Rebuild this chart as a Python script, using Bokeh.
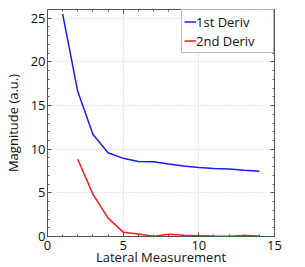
from bokeh.plotting import figure
from bokeh.embed import file_html
from bokeh.resources import INLINE
from bokeh.models import (LinearAxis, Range1d, SingleIntervalTicker, Legend, LegendItem,
                          CustomLabelingPolicy)

x1 = [1, 2, 3, 4, 5, 6, 7, 8, 9, 10, 11, 12, 13, 14]
deriv1 = [25.5, 16.6, 11.7, 9.6, 8.95, 8.6, 8.57, 8.3, 8.07, 7.9, 7.78, 7.72, 7.58, 7.46]
x2 = [2, 3, 4, 5, 6, 7, 8, 9, 10, 11, 12, 13, 14]
deriv2 = [8.85, 4.85, 2.1, 0.5, 0.28, 0.02, 0.27, 0.15, 0.1, 0.05, 0.02, 0.12, 0.05]

FONT = "Open Sans"
AX = "#555555"

p = figure(frame_width=227, frame_height=227, output_backend="svg", toolbar_location=None,
           x_range=Range1d(0, 15), y_range=Range1d(0, 26),
           min_border_left=38, min_border_right=14, min_border_top=9, min_border_bottom=20)

p.background_fill_color = "white"
p.border_fill_color = "white"
p.outline_line_color = AX
p.outline_line_width = 1

xt = SingleIntervalTicker(interval=5, num_minor_ticks=5)
yt = SingleIntervalTicker(interval=5, num_minor_ticks=5)

for ax in p.xaxis + p.yaxis:
    ax.major_tick_in = 4
    ax.major_tick_out = 0
    ax.minor_tick_in = 2
    ax.minor_tick_out = 0
    ax.axis_line_color = AX
    ax.major_tick_line_color = AX
    ax.minor_tick_line_color = AX
    ax.major_label_text_font = FONT
    ax.major_label_text_font_size = "13px"
    ax.major_label_text_color = "#111111"
    ax.axis_label_text_font = FONT
    ax.axis_label_text_font_size = "13px"
    ax.axis_label_text_font_style = "normal"
    ax.axis_label_text_color = "#111111"

p.xaxis.major_label_standoff = 4
p.xaxis.axis_label_standoff = -5
p.yaxis.major_label_standoff = 2
p.yaxis.axis_label_standoff = 6

p.xaxis.ticker = xt
p.yaxis.ticker = yt
p.xaxis.axis_label = "Lateral Measurement"
p.yaxis.axis_label = "Magnitude (a.u.)"

hide = """
const src = (indices.ones ? Array.from(indices.ones()) : Array.from(indices));
for (const i of src) { indices.unset(i) }
return indices
"""

def frame_axis():
    return LinearAxis(ticker=SingleIntervalTicker(interval=5, num_minor_ticks=5),
                      major_label_policy=CustomLabelingPolicy(code=hide),
                      major_label_text_font_size="1px", major_tick_in=4, major_tick_out=0,
                      minor_tick_in=2, minor_tick_out=0, axis_line_color=AX,
                      major_tick_line_color=AX, minor_tick_line_color=AX,
                      major_label_standoff=0)

p.add_layout(frame_axis(), "above")
p.add_layout(frame_axis(), "right")

p.xgrid.ticker = xt
p.ygrid.ticker = yt
p.grid.grid_line_color = "#cccccc"
p.grid.grid_line_dash = "1 2"
p.grid.grid_line_width = 1

r1 = p.line(x1, deriv1, line_color="#1a1aff", line_width=1.5)
r2 = p.line(x2, deriv2, line_color="#ff1a1a", line_width=1.5)

legend = Legend(items=[LegendItem(label="1st Deriv", renderers=[r1]),
                       LegendItem(label="2nd Deriv", renderers=[r2])],
                location="top_right")
legend.label_text_font = FONT
legend.label_text_font_size = "13px"
legend.label_text_color = "#111111"
legend.glyph_width = 12
legend.glyph_height = 19
legend.label_standoff = 0
legend.label_width = 75
legend.label_height = 19
legend.padding = 2
legend.spacing = 0
legend.margin = 0
legend.border_line_color = "#777777"
legend.border_line_width = 1
p.add_layout(legend)

open("out.html", "w").write(file_html(p, INLINE))
